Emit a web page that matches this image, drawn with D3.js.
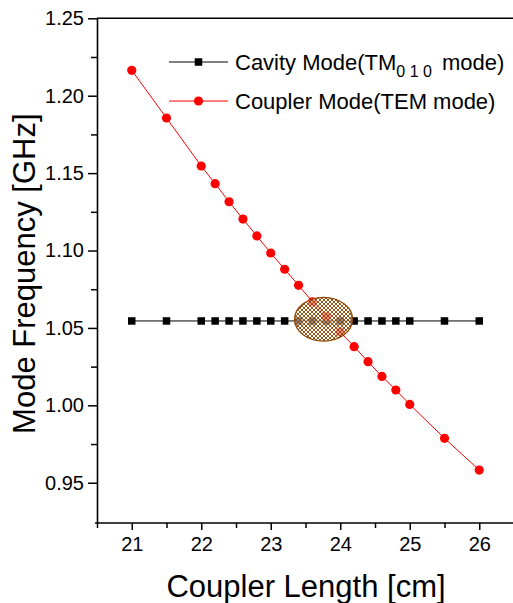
<!DOCTYPE html>
<html>
<head>
<meta charset="utf-8">
<script src="https://cdn.jsdelivr.net/npm/d3@7"></script>
<style>
  html, body { margin: 0; padding: 0; background: #fff; }
  svg { display: block; font-family: "Liberation Sans", Arial, sans-serif; }
</style>
</head>
<body>
<svg id="chart" width="513" height="603"></svg>
<script>
// ---- data ----
const lengths = [21, 21.5, 22, 22.2, 22.4, 22.6, 22.8, 23, 23.2, 23.4, 23.6, 23.8, 24, 24.2, 24.4, 24.6, 24.8, 25, 25.5, 26];
const cavityFreq = [1.0545, 1.0545, 1.0545, 1.0545, 1.0545, 1.0545, 1.0545, 1.0545, 1.0545, 1.0545, 1.0545, 1.0545, 1.0545, 1.0545, 1.0545, 1.0545, 1.0545, 1.0545, 1.0545, 1.0545];
const couplerFreq = [1.2164, 1.1856, 1.1546, 1.1432, 1.1315, 1.1203, 1.1094, 1.0984, 1.0879, 1.0775, 1.0669, 1.0572, 1.0474, 1.0379, 1.0282, 1.0187, 1.0099, 1.0006, 0.9787, 0.9582];
const xTicks = [21, 22, 23, 24, 25, 26];
const xMinorTicks = [20.5, 21.5, 22.5, 23.5, 24.5, 25.5, 26.5];
const yTicks = [0.95, 1.00, 1.05, 1.10, 1.15, 1.20, 1.25];
const yMinorTicks = [0.975, 1.025, 1.075, 1.125, 1.175, 1.225];
const highlightCenter = [23.76, 1.0556];
const highlightRadius = [0.417, 0.0141];
const seriesNames = ["Cavity Mode(TM", "Coupler Mode(TEM mode)"];

// ---- layout ----
const svg = d3.select("#chart");
const x = d3.scaleLinear().domain([20.5, 26.5]).range([97, 514]);
const y = d3.scaleLinear().domain([0.924, 1.25]).range([523, 18.3]);
const FONT = '"Liberation Sans", Arial, sans-serif';

// pattern for highlight ellipse
const defs = svg.append("defs");
const pat = defs.append("pattern").attr("id", "hatch")
  .attr("patternUnits", "userSpaceOnUse").attr("width", 4).attr("height", 4);
pat.append("rect").attr("width", 4).attr("height", 4).attr("fill", "#fff").attr("opacity", 0.55);
pat.append("path").attr("d", "M0,0 L4,4 M4,0 L0,4 M-1,3 L1,5 M3,-1 L5,1 M3,5 L5,3 M-1,1 L1,-1")
  .attr("stroke", "#8B4500").attr("stroke-width", 0.9);

// axes
function styleAxis(g) {
  g.attr("font-family", FONT).attr("font-size", 20);
  g.selectAll("line").attr("stroke", "#000").attr("stroke-width", 1.5);
  g.selectAll("text").attr("fill", "#000");
}
const yAxisMinor = svg.append("g").attr("transform", `translate(${x.range()[0]},0)`)
  .call(d3.axisLeft(y).tickValues(yMinorTicks).tickSize(6).tickFormat(""));
yAxisMinor.select(".domain").remove();
styleAxis(yAxisMinor);
const yAxis = svg.append("g").attr("transform", `translate(${x.range()[0]},0)`)
  .call(d3.axisLeft(y).tickValues(yTicks).tickSize(9).tickSizeOuter(0).tickPadding(4).tickFormat(d3.format(".2f")));
yAxis.select(".domain").attr("stroke", "#000").attr("stroke-width", 1.6);
styleAxis(yAxis);

const xAxisMinor = svg.append("g").attr("transform", `translate(0,${y.range()[0]})`)
  .call(d3.axisBottom(x).tickValues(xMinorTicks).tickSize(5).tickFormat(""));
xAxisMinor.select(".domain").remove();
styleAxis(xAxisMinor);
const xAxis = svg.append("g").attr("transform", `translate(0,${y.range()[0]})`)
  .call(d3.axisBottom(x).tickValues(xTicks).tickSize(7).tickSizeOuter(0).tickPadding(7).tickFormat(d3.format("d")));
xAxis.select(".domain").remove();
styleAxis(xAxis);
svg.append("line").attr("x1", x.range()[0] - 2).attr("x2", 513)
  .attr("y1", y.range()[0]).attr("y2", y.range()[0]).attr("stroke", "#000").attr("stroke-width", 1.6);
// top frame line
svg.append("line").attr("x1", x.range()[0]).attr("x2", 513)
  .attr("y1", y.range()[1]).attr("y2", y.range()[1]).attr("stroke", "#000").attr("stroke-width", 1.6);

// axis titles
svg.append("text").attr("x", (x(20.5) + 513) / 2 + 1).attr("y", 597)
  .attr("text-anchor", "middle").attr("font-family", FONT).attr("font-size", 31)
  .text("Coupler Length [cm]");
svg.append("text").attr("transform", `translate(35,${(y.range()[0] + y.range()[1]) / 2 + 3}) rotate(-90)`)
  .attr("text-anchor", "middle").attr("font-family", FONT).attr("font-size", 31)
  .text("Mode Frequency [GHz]");

// series
const cavity = lengths.map((d, i) => [d, cavityFreq[i]]);
const coupler = lengths.map((d, i) => [d, couplerFreq[i]]);
const line = d3.line().x(d => x(d[0])).y(d => y(d[1]));

svg.append("path").datum(cavity).attr("d", line).attr("fill", "none").attr("stroke", "#000").attr("stroke-width", 1);
svg.append("path").datum(coupler).attr("d", line).attr("fill", "none").attr("stroke", "#ff0000").attr("stroke-width", 1);

const sq = 7.5;
svg.append("g").selectAll("rect").data(cavity).join("rect")
  .attr("x", d => x(d[0]) - sq / 2).attr("y", d => y(d[1]) - sq / 2)
  .attr("width", sq).attr("height", sq).attr("fill", "#000");
svg.append("g").selectAll("circle").data(coupler).join("circle")
  .attr("cx", d => x(d[0])).attr("cy", d => y(d[1])).attr("r", 4.6).attr("fill", "#ff0000");

// highlight ellipse
const ecx = x(highlightCenter[0]), ecy = y(highlightCenter[1]);
svg.append("ellipse").attr("cx", ecx).attr("cy", ecy)
  .attr("rx", x(highlightCenter[0] + highlightRadius[0]) - ecx)
  .attr("ry", ecy - y(highlightCenter[1] + highlightRadius[1]))
  .attr("fill", "url(#hatch)").attr("stroke", "#8B4500").attr("stroke-width", 1.2);

// legend
const legend = svg.append("g");
const rows = [{ y: 62, color: "#000", shape: "square" }, { y: 101, color: "#ff0000", shape: "circle" }];
rows.forEach((r, i) => {
  legend.append("line").attr("x1", 169).attr("x2", 228).attr("y1", r.y).attr("y2", r.y)
    .attr("stroke", r.color).attr("stroke-width", 1);
  if (r.shape === "square") {
    legend.append("rect").attr("x", 198.5 - sq / 2).attr("y", r.y - sq / 2).attr("width", sq).attr("height", sq).attr("fill", r.color);
  } else {
    legend.append("circle").attr("cx", 198.5).attr("cy", r.y).attr("r", 4.6).attr("fill", r.color);
  }
});
const t1 = legend.append("text").attr("x", 235).attr("y", 62 + 8).attr("font-family", FONT).attr("font-size", 22);
t1.append("tspan").text(seriesNames[0]);
t1.append("tspan").attr("font-size", 16).attr("dy", 7).text("0 1 0");
t1.append("tspan").attr("dy", -7).attr("dx", 10).text("mode)");
legend.append("text").attr("x", 235).attr("y", 101 + 8).attr("font-family", FONT).attr("font-size", 22)
  .text(seriesNames[1]);
</script>
</body>
</html>
